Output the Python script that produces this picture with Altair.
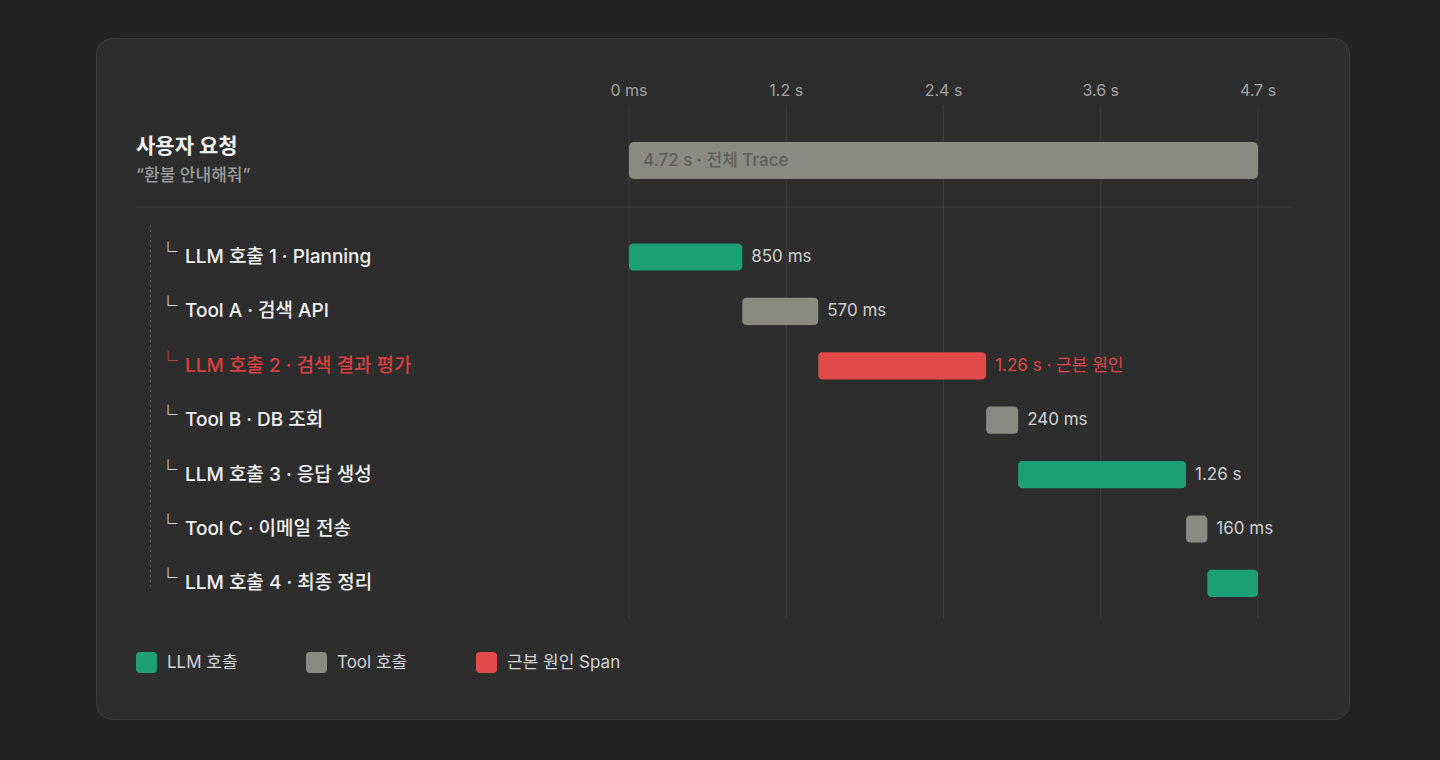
import altair as alt
import pandas as pd

# ---- data ----
span_names = [
    "LLM 호출 1 · Planning",
    "Tool A · 검색 API",
    "LLM 호출 2 · 검색 결과 평가",
    "Tool B · DB 조회",
    "LLM 호출 3 · 응답 생성",
    "Tool C · 이메일 전송",
    "LLM 호출 4 · 최종 정리",
]
span_kinds = ["LLM 호출", "Tool 호출", "근본 원인 Span", "Tool 호출", "LLM 호출", "Tool 호출", "LLM 호출"]
span_start_s = [0.0, 0.85, 1.42, 2.68, 2.92, 4.18, 4.34]
span_dur_s = [0.85, 0.57, 1.26, 0.24, 1.26, 0.16, 0.38]
span_dur_labels = ["850 ms", "570 ms", "1.26 s · 근본 원인", "240 ms", "1.26 s", "160 ms", ""]

total_s = 4.72
total_label = "4.72 s · 전체 Trace"
tick_values = [0.0, 1.18, 2.36, 3.54, 4.72]
tick_labels = ["0 ms", "1.2 s", "2.4 s", "3.6 s", "4.7 s"]

legend_kinds = ["LLM 호출", "Tool 호출", "근본 원인 Span"]
legend_colors = ["#1f9f76", "#8a8a83", "#e24a4a"]
root_title = "사용자 요청"
root_subtitle = "“환불 안내해줘”"

# ---- styles ----
FONT = "Inter, 'Noto Sans CJK KR', sans-serif"
BG = "#232323"
CARD = "#2d2d2d"
WHITE = "#f1f1f1"
RED_TEXT = "#d9403f"
MUTED = "#a3a3a3"

spans = pd.DataFrame({
    "name": span_names,
    "kind": span_kinds,
    "start": span_start_s,
    "dur": span_dur_s,
    "label": span_dur_labels,
})
spans["end"] = spans["start"] + spans["dur"]
ticks = pd.DataFrame({"v": tick_values, "lab": tick_labels})
total = pd.DataFrame({"start": [0.0], "end": [total_s], "label": [total_label]})
one = pd.DataFrame({"a": [0]})
titles = pd.DataFrame({"t": [root_title], "s": [root_subtitle]})

xs = alt.Scale(domain=[0, total_s], range=[629, 1258])
ys = alt.Scale(type="band", domain=span_names, range=[229.8, 610.6], paddingInner=0.5, paddingOuter=0.25)

is_root = alt.datum.kind == "근본 원인 Span"

card = alt.Chart(one).mark_rect(fill=CARD, stroke="#3b3b3b", strokeWidth=1, cornerRadius=16).encode(
    x=alt.value(96.5), x2=alt.value(1349.5), y=alt.value(38.5), y2=alt.value(719.5)
)

grid = alt.Chart(ticks).mark_rule(color="#3c3c3c", strokeWidth=1).encode(
    x=alt.X("v:Q", scale=xs, axis=None), y=alt.value(105), y2=alt.value(618)
)
tick_text = alt.Chart(ticks).mark_text(font=FONT, fontSize=16, color=MUTED, baseline="middle", align="center").encode(
    x=alt.X("v:Q", scale=xs, axis=None), y=alt.value(91), text="lab:N"
)

divider = alt.Chart(one).mark_rule(color="#3d3d3d", strokeWidth=1).encode(
    x=alt.value(136), x2=alt.value(1292), y=alt.value(207)
)
tree_line = alt.Chart(one).mark_rule(color="#5a5a5a", strokeWidth=1, strokeDash=[2, 3]).encode(
    x=alt.value(150.5), y=alt.value(225), y2=alt.value(588)
)

title_t = alt.Chart(titles).mark_text(font=FONT, fontSize=21, fontWeight="bold", color=WHITE, align="left", baseline="middle").encode(
    x=alt.value(136), y=alt.value(147), text="t:N"
)
title_s = alt.Chart(titles).mark_text(font=FONT, fontSize=17, fontWeight=500, color="#9c9c9c", align="left", baseline="middle").encode(
    x=alt.value(136), y=alt.value(176), text="s:N"
)

total_bar = alt.Chart(total).mark_rect(color="#8a8a83", cornerRadius=5).encode(
    x=alt.X("start:Q", scale=xs, axis=None), x2="end:Q", y=alt.value(142), y2=alt.value(179)
)
total_text = alt.Chart(total).mark_text(font=FONT, fontSize=17, fontWeight=500, color="#5f5f5a", align="left", baseline="middle", dx=14).encode(
    x=alt.X("start:Q", scale=xs, axis=None), y=alt.value(161), text="label:N"
)

bars = alt.Chart(spans).mark_bar(cornerRadius=4).encode(
    x=alt.X("start:Q", scale=xs, axis=None),
    x2="end:Q",
    y=alt.Y("name:N", scale=ys, axis=None, sort=span_names),
    color=alt.Color(
        "kind:N",
        scale=alt.Scale(domain=legend_kinds, range=legend_colors),
        legend=alt.Legend(
            title=None, orient="none", legendX=136, legendY=652, direction="horizontal",
            symbolType="M-1,-0.62Q-1,-1,-0.62,-1L0.62,-1Q1,-1,1,-0.62L1,0.62Q1,1,0.62,1L-0.62,1Q-1,1,-1,0.62Z",
            symbolSize=441, symbolStrokeWidth=0, symbolOpacity=1,
            labelFont=FONT, labelFontSize=17, labelColor="#d4d4d4", labelOffset=10,
            columnPadding=25, gridAlign="all", labelLimit=300,
        ),
    ),
)

val_text = alt.Chart(spans).mark_text(font=FONT, fontSize=17, align="left", baseline="middle", dx=9).encode(
    x=alt.X("end:Q", scale=xs, axis=None),
    y=alt.Y("name:N", scale=ys, axis=None, sort=span_names),
    text="label:N",
    color=alt.condition(is_root, alt.value("#e04545"), alt.value("#cfcfcf")),
)

corner = alt.Chart(spans).mark_text(font="Noto Sans CJK KR", fontSize=19, fontWeight="bold", align="left", baseline="middle", dy=-4).encode(
    x=alt.value(158.5),
    y=alt.Y("name:N", scale=ys, axis=None, sort=span_names),
    text=alt.value("└"),
    color=alt.condition(is_root, alt.value(RED_TEXT), alt.value(WHITE)),
)
row_text = alt.Chart(spans).mark_text(font=FONT, fontSize=19, fontWeight=500, align="left", baseline="middle").encode(
    x=alt.value(185),
    y=alt.Y("name:N", scale=ys, axis=None, sort=span_names),
    text="name:N",
    color=alt.condition(is_root, alt.value(RED_TEXT), alt.value(WHITE)),
)

chart = alt.layer(
    card, grid, tick_text, divider, tree_line, title_t, title_s,
    total_bar, total_text, bars, val_text, corner, row_text,
).properties(
    width=1440, height=760, padding=0, autosize=alt.AutoSizeParams(type="none"), background=BG
).configure_view(stroke=None)

chart.save("out.html", embed_options={"renderer": "svg", "actions": False})
